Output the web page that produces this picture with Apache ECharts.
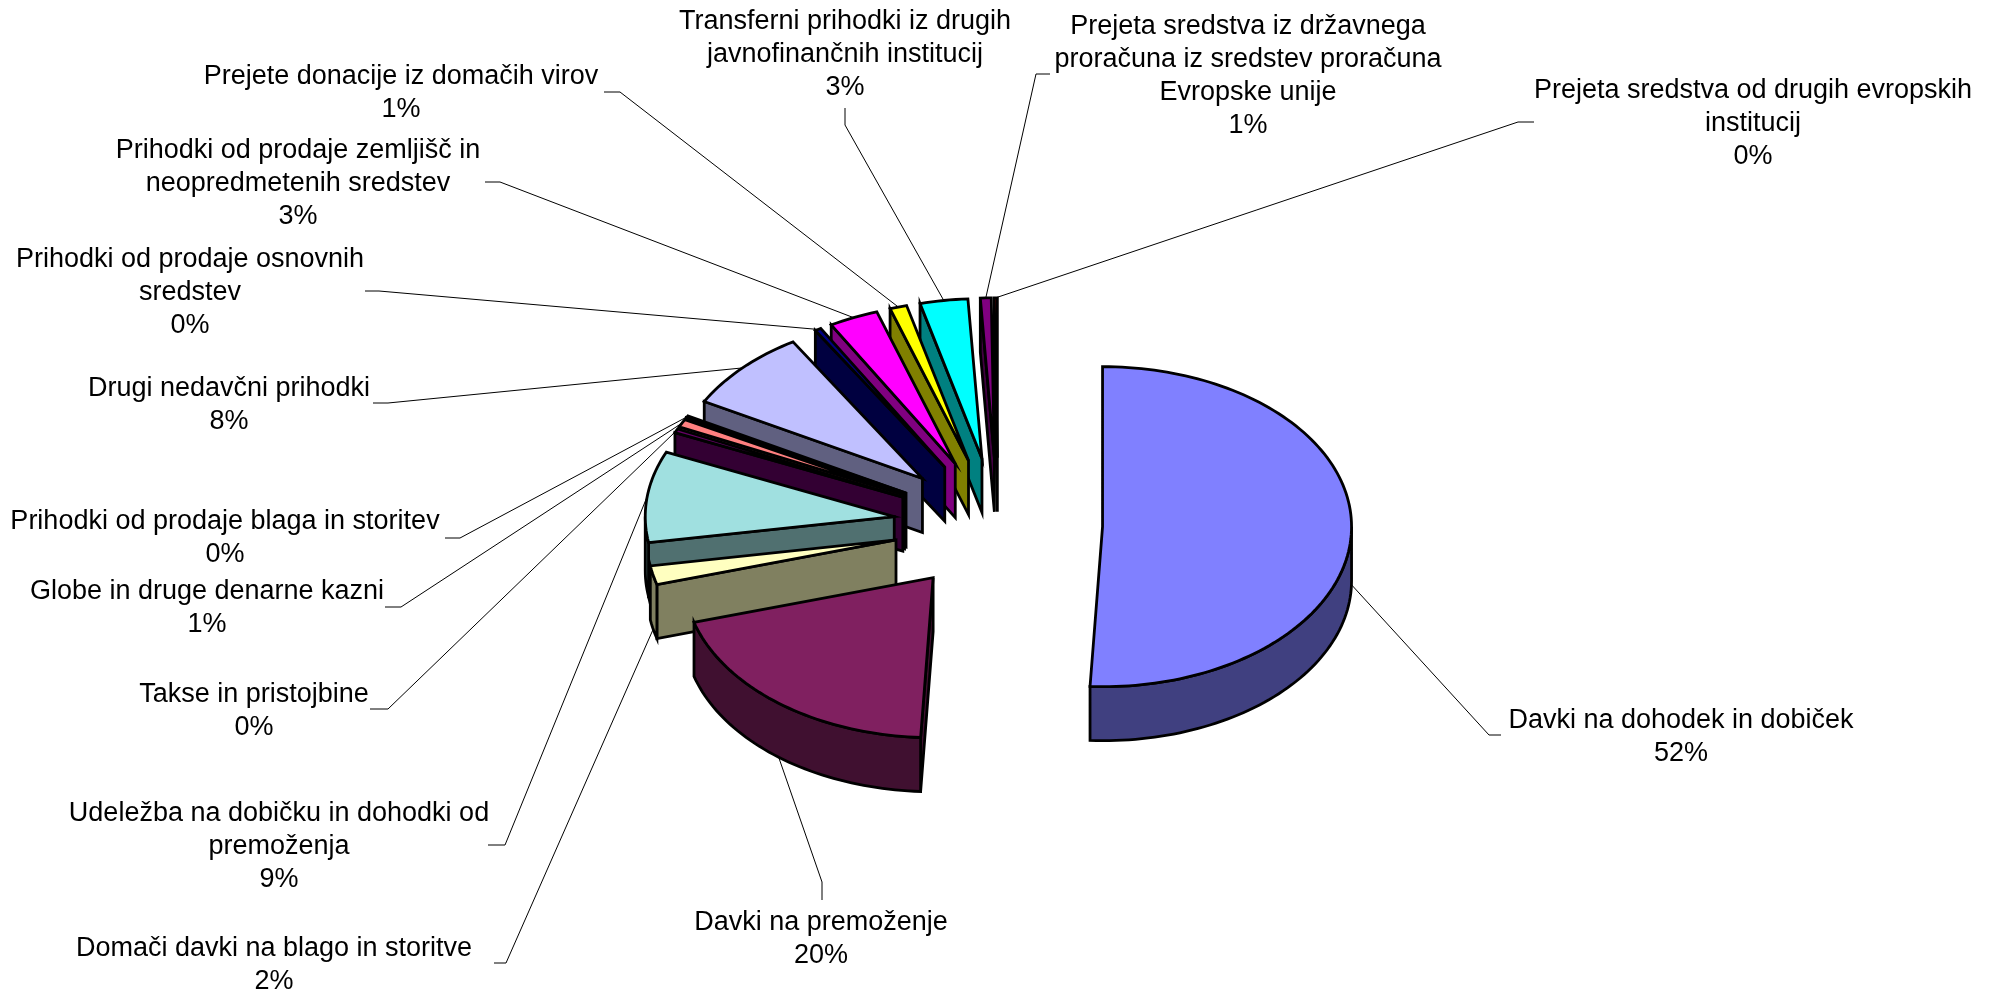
<!DOCTYPE html>
<html>
<head>
<meta charset="utf-8">
<title>Prihodki</title>
<script src="https://cdn.jsdelivr.net/npm/echarts@6/dist/echarts.min.js"></script>
<style>
  html, body { margin: 0; padding: 0; background: #fff; }
  #chart { width: 1995px; height: 992px; }
</style>
</head>
<body>
<div id="chart"></div>
<script>
// data: values from the drawn slice angles, percentages as printed
var categories = [
  'Davki na dohodek in dobiček',
  'Davki na premoženje',
  'Domači davki na blago in storitve',
  'Udeležba na dobičku in dohodki od\npremoženja',
  'Takse in pristojbine',
  'Globe in druge denarne kazni',
  'Prihodki od prodaje blaga in storitev',
  'Drugi nedavčni prihodki',
  'Prihodki od prodaje osnovnih\nsredstev',
  'Prihodki od prodaje zemljišč in\nneopredmetenih sredstev',
  'Prejete donacije iz domačih virov',
  'Transferni prihodki iz drugih\njavnofinančnih institucij',
  'Prejeta sredstva iz državnega\nproračuna iz sredstev proračuna\nEvropske unije',
  'Prejeta sredstva od drugih evropskih\ninstitucij'
];
var values = [50.8, 19.7, 1.9, 9.2, 0.4, 0.8, 0.2, 8.3, 0.4, 3.2, 1.1, 3.1, 0.7, 0.2];
var percentLabels = ['52%', '20%', '2%', '9%', '0%', '1%', '0%', '8%', '0%', '3%', '1%', '3%', '1%', '0%'];
var topColors = ['#8080FF', '#802060', '#FFFFC0', '#A0E0E0', '#660066', '#FF8080', '#0066CC',
  '#C0C0FF', '#000080', '#FF00FF', '#FFFF00', '#00FFFF', '#800080', '#800000'];
var sideColors = ['#404080', '#401030', '#808060', '#507070', '#330033', '#804040', '#003366',
  '#606080', '#000040', '#800080', '#808000', '#008080', '#400040', '#400000'];

// label layout: text centre x, first line top y, leader elbow x/y, leader end x/y
var labelX = [1681, 821, 274, 279, 254, 207, 225, 229, 190, 298, 401, 845, 1248, 1753];
var labelY = [704, 906, 932, 797, 678, 575, 505, 372, 243, 134, 60, 5, 10, 74];
var elbowX = [1489, 822, 506, 505, 388, 401, 460, 388, 379, 500, 620, 845, 1036, 1518];
var elbowY = [735, 882, 963, 845, 709, 607, 538, 403, 291, 182, 92, 125, 74, 122];
var leaderEndX = [1501, 822, 494, 488, 370, 385, 445, 373, 365, 485, 604, 845, 1050, 1534];
var leaderEndY = [735, 900, 963, 845, 709, 607, 538, 403, 291, 182, 92, 108, 74, 122];

// pie geometry
var CX = 998, CY = 525, RX = 249, RY = 160, DEPTH = 54, EXPLODE = 0.42;

document.addEventListener("DOMContentLoaded", function () {
  var chart = echarts.init(document.getElementById('chart'));

  var total = values.reduce(function (a, b) { return a + b; }, 0);

  // angle in degrees, clockwise from the top of the pie
  function px(deg) { return Math.sin(deg * Math.PI / 180); }
  function py(deg) { return -Math.cos(deg * Math.PI / 180); }

  var acc = 0;
  var slices = values.map(function (v, i) {
    var a0 = acc / total * 360;
    acc += v;
    var a1 = acc / total * 360;
    var mid = (a0 + a1) / 2;
    return {
      index: i, a0: a0, a1: a1, mid: mid,
      x: CX + RX * EXPLODE * px(mid),
      y: CY + RY * EXPLODE * py(mid)
    };
  });

  function arcPoints(s, from, to, dy) {
    var pts = [];
    var n = Math.max(2, Math.ceil((to - from) / 1.5));
    for (var k = 0; k <= n; k++) {
      var a = from + (to - from) * k / n;
      pts.push([s.x + RX * px(a), s.y + RY * py(a) + dy]);
    }
    return pts;
  }

  function face(points, fill) {
    return {
      type: 'polygon',
      shape: { points: points },
      style: { fill: fill, stroke: '#000', lineWidth: 2.8, lineJoin: 'miter' }
    };
  }

  // cut faces and the outer wall come first, the top face goes over them
  function renderSlice(params, api) {
    var s = slices[api.value(0)];
    var side = sideColors[s.index];
    var children = [];
    function cutFace(deg) {
      var ex = s.x + RX * px(deg), ey = s.y + RY * py(deg);
      children.push(face([[s.x, s.y], [ex, ey], [ex, ey + DEPTH], [s.x, s.y + DEPTH]], side));
    }
    if (px(s.a0) < 0) cutFace(s.a0);
    if (px(s.a1) > 0) cutFace(s.a1);
    var from = Math.max(s.a0, 90), to = Math.min(s.a1, 270);
    if (to > from) {
      children.push(face(arcPoints(s, from, to, 0).concat(arcPoints(s, from, to, DEPTH).reverse()), side));
    }
    children.push(face([[s.x, s.y]].concat(arcPoints(s, s.a0, s.a1, 0)), topColors[s.index]));
    return { type: 'group', children: children };
  }

  // leader starts on the slice's outer edge, at the wall foot for slices facing the viewer
  function renderLeader(params, api) {
    var i = api.value(0);
    var s = slices[i];
    var sx = s.x + RX * px(s.mid);
    var sy = s.y + RY * py(s.mid) + (py(s.mid) > 0.02 ? DEPTH : 0);
    return {
      type: 'polyline',
      shape: { points: [[sx, sy], [elbowX[i], elbowY[i]], [leaderEndX[i], leaderEndY[i]]] },
      style: { fill: null, stroke: '#000', lineWidth: 1 }
    };
  }

  function renderLabel(params, api) {
    var i = api.value(0);
    return {
      type: 'text',
      style: {
        text: categories[i] + '\n' + percentLabels[i],
        x: labelX[i],
        y: labelY[i],
        align: 'center',
        verticalAlign: 'top',
        fill: '#000',
        font: '27px "Liberation Sans", Arial, sans-serif',
        lineHeight: 33
      }
    };
  }

  // back slices first so the nearer ones cover them
  var sliceOrder = slices.slice().sort(function (a, b) { return a.y - b.y; })
    .map(function (s) { return [s.index, values[s.index]]; });
  var labelRows = values.map(function (v, i) { return [i, v]; });

  var option = {
    animation: false,
    backgroundColor: '#fff',
    tooltip: { show: false },
    series: [
      { type: 'custom', coordinateSystem: 'none', silent: true, z: 1, renderItem: renderLeader, data: labelRows },
      { type: 'custom', coordinateSystem: 'none', silent: true, z: 2, renderItem: renderSlice, data: sliceOrder },
      { type: 'custom', coordinateSystem: 'none', silent: true, z: 3, renderItem: renderLabel, data: labelRows }
    ]
  };

  chart.setOption(option);
});
</script>
</body>
</html>
